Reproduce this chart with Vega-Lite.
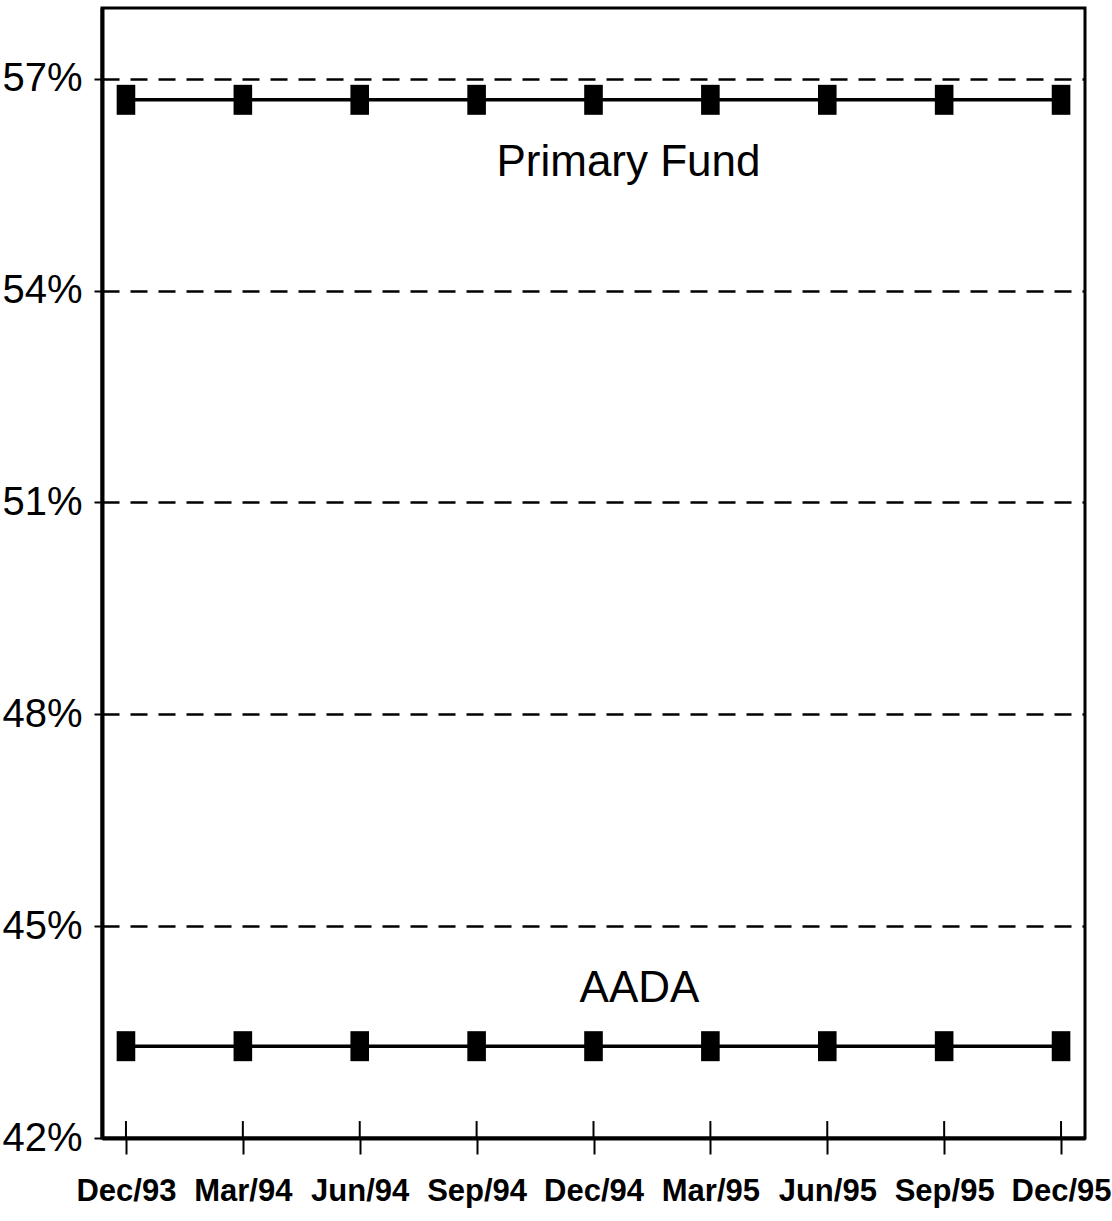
{
  "$schema": "https://vega.github.io/schema/vega-lite/v6.json",
  "width": 983,
  "height": 1130,
  "autosize": {"type": "none"},
  "padding": {"left": 102, "top": 8, "right": 27, "bottom": 83},
  "background": "white",
  "config": {
    "view": {"stroke": "black", "strokeWidth": 3},
    "font": "Liberation Sans"
  },
  "datasets": {
    "series": [
      {"period": "Dec/93", "fund": "Primary Fund", "share": 56.7},
      {"period": "Mar/94", "fund": "Primary Fund", "share": 56.7},
      {"period": "Jun/94", "fund": "Primary Fund", "share": 56.7},
      {"period": "Sep/94", "fund": "Primary Fund", "share": 56.7},
      {"period": "Dec/94", "fund": "Primary Fund", "share": 56.7},
      {"period": "Mar/95", "fund": "Primary Fund", "share": 56.7},
      {"period": "Jun/95", "fund": "Primary Fund", "share": 56.7},
      {"period": "Sep/95", "fund": "Primary Fund", "share": 56.7},
      {"period": "Dec/95", "fund": "Primary Fund", "share": 56.7},
      {"period": "Dec/93", "fund": "AADA", "share": 43.3},
      {"period": "Mar/94", "fund": "AADA", "share": 43.3},
      {"period": "Jun/94", "fund": "AADA", "share": 43.3},
      {"period": "Sep/94", "fund": "AADA", "share": 43.3},
      {"period": "Dec/94", "fund": "AADA", "share": 43.3},
      {"period": "Mar/95", "fund": "AADA", "share": 43.3},
      {"period": "Jun/95", "fund": "AADA", "share": 43.3},
      {"period": "Sep/95", "fund": "AADA", "share": 43.3},
      {"period": "Dec/95", "fund": "AADA", "share": 43.3}
    ],
    "labels": [
      {"period": "Dec/94", "label": "Primary Fund", "share": 55.62, "shift": 35},
      {"period": "Dec/94", "label": "AADA", "share": 43.93, "shift": 46}
    ]
  },
  "encoding": {
    "x": {
      "field": "period",
      "type": "ordinal",
      "sort": null,
      "scale": {"type": "point", "padding": 0.205},
      "axis": {
        "title": null,
        "labelAngle": 0,
        "labelFont": "Liberation Sans",
        "labelFontWeight": "bold",
        "labelFontSize": 31,
        "labelColor": "black",
        "labelPadding": 22,
        "tickSize": 16,
        "tickWidth": 2,
        "tickColor": "black",
        "domainColor": "black",
        "domainWidth": 4,
        "grid": false
      }
    },
    "y": {
      "field": "share",
      "type": "quantitative",
      "scale": {"domain": [42, 58], "nice": false, "zero": false},
      "axis": {
        "title": null,
        "values": [42, 45, 48, 51, 54, 57],
        "labelExpr": "datum.value + '%'",
        "labelFont": "Liberation Sans",
        "labelFontSize": 40,
        "labelColor": "black",
        "labelPadding": 12,
        "tickSize": 8,
        "tickWidth": 2,
        "tickColor": "black",
        "domainColor": "black",
        "domainWidth": 4,
        "grid": true,
        "gridColor": "black",
        "gridWidth": 2.5,
        "gridDash": [17, 11],
        "gridOpacity": 1
      }
    }
  },
  "layer": [
    {
      "data": {"name": "series"},
      "transform": [{"filter": "datum.fund === 'AADA'"}],
      "mark": {"type": "rule", "color": "black", "strokeWidth": 2},
      "encoding": {
        "y": {"datum": 42},
        "y2": {"datum": 42.24}
      }
    },
    {
      "data": {"name": "series"},
      "mark": {"type": "line", "color": "black", "strokeWidth": 3.5},
      "encoding": {"detail": {"field": "fund"}}
    },
    {
      "data": {"name": "series"},
      "mark": {
        "type": "point",
        "filled": true,
        "color": "black",
        "opacity": 1,
        "shape": "M-0.62,-1L0.62,-1L0.62,1L-0.62,1Z",
        "size": 900
      },
      "encoding": {"detail": {"field": "fund"}}
    },
    {
      "data": {"name": "labels"},
      "mark": {
        "type": "text",
        "font": "Liberation Sans",
        "fontSize": 44,
        "color": "black",
        "align": "center",
        "baseline": "alphabetic"
      },
      "encoding": {
        "text": {"field": "label"},
        "xOffset": {"field": "shift", "type": "quantitative", "scale": null}
      }
    }
  ]
}
